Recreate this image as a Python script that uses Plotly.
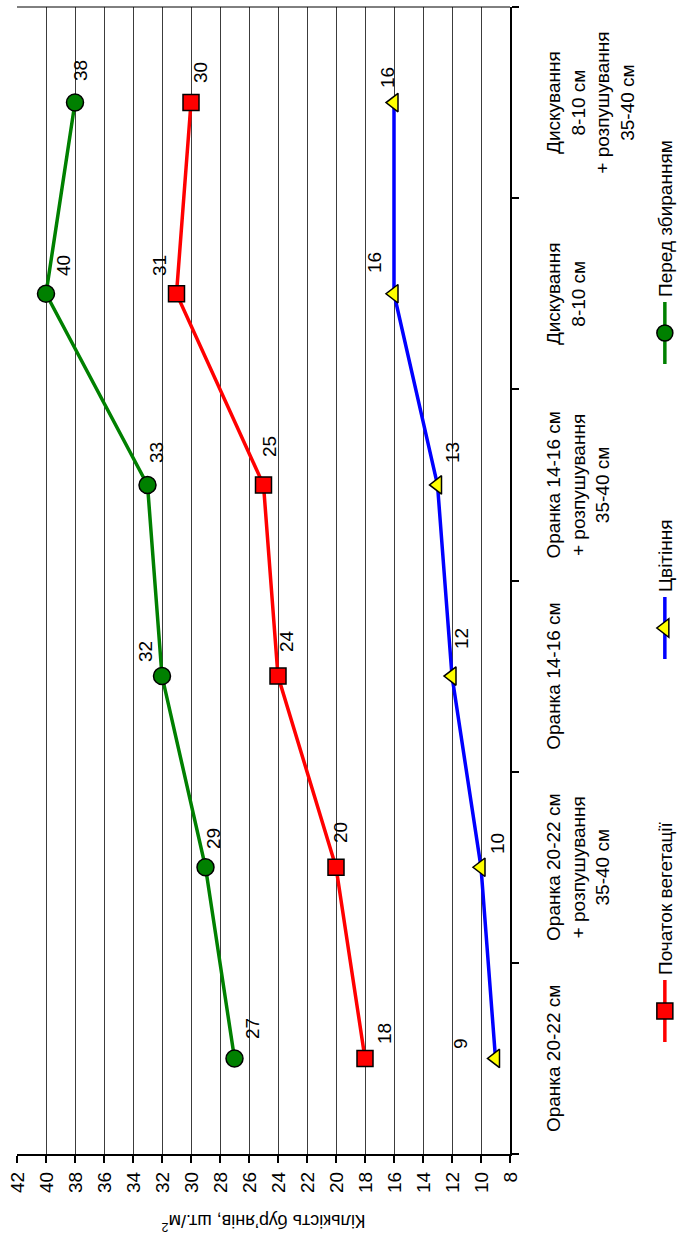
import plotly.graph_objects as go

# Tillage treatments (category axis)
categories = [
    "Оранка 20-22 см",
    "Оранка 20-22 см<br>+ розпушування<br>35-40 см",
    "Оранка 14-16 см",
    "Оранка 14-16 см<br>+ розпушування<br>35-40 см",
    "Дискування<br>8-10 см",
    "Дискування<br>8-10 см<br>+ розпушування<br>35-40 см",
]

# Weed counts, pcs per m2
start_vegetation = [18, 20, 24, 25, 31, 30]
flowering = [9, 10, 12, 13, 16, 16]
before_harvest = [27, 29, 32, 33, 40, 38]

series_names = ["Початок вегетації", "Цвітіння", "Перед збиранням"]
value_ticks = list(range(8, 43, 2))

# label offsets from each point (px right, px down)
label_offsets = {
    "Початок вегетації": [(25, 19), (35, 4), (35, 8), (38, 6), (28, -17), (30, 9)],
    "Цвітіння": [(15, -35), (24, 16), (38, 9), (32, 15), (31, -20), (25, -7)],
    "Перед збиранням": [(30, 18), (29, 8), (25, -17), (32, 9), (28, 17), (32, 5)],
}

FONT = "Arial, 'Liberation Sans', sans-serif"
W, H = 1239, 682  # drawn landscape, turned a quarter turn on the page
ML, MR, MT, MB = 85, 7, 17, 172

styles = {
    "Початок вегетації": dict(line="#FF0000", fill="#FF0000", symbol="square", size=16),
    "Цвітіння": dict(line="#0000FF", fill="#FFFF00", symbol="triangle-up", size=16),
    "Перед збиранням": dict(line="#008000", fill="#008000", symbol="circle", size=17),
}
series_values = {
    "Початок вегетації": start_vegetation,
    "Цвітіння": flowering,
    "Перед збиранням": before_harvest,
}
legend_ids = {"Початок вегетації": "legend", "Цвітіння": "legend2", "Перед збиранням": "legend3"}
legend_left = {"legend": 192, "legend2": 575, "legend3": 870}

fig = go.Figure()
for name in series_names:
    st = styles[name]
    fig.add_trace(go.Scatter(
        x=categories, y=series_values[name], name=name,
        mode="lines+markers",
        line=dict(color=st["line"], width=3.5),
        marker=dict(symbol=st["symbol"], size=st["size"], color=st["fill"],
                    line=dict(color="black", width=1.5)),
        legend=legend_ids[name],
        cliponaxis=False,
    ))
    for cat, val, (dx, dy) in zip(categories, series_values[name], label_offsets[name]):
        fig.add_annotation(x=cat, y=val, text=str(val), showarrow=False,
                           xshift=dx, yshift=-dy,
                           font=dict(family=FONT, size=19, color="black"))

# legends are placed in page pixels (container coordinates)
legend_common = dict(orientation="h", yanchor="middle", xanchor="left",
                     xref="container", yref="container",
                     font=dict(family=FONT, size=19, color="black"),
                     bgcolor="rgba(0,0,0,0)", itemwidth=62,
                     y=1 - 665 / H)

fig.update_layout(
    width=W, height=H,
    margin=dict(l=ML, r=MR, t=MT, b=MB, autoexpand=False),
    paper_bgcolor="white", plot_bgcolor="white",
    font=dict(family=FONT, size=17, color="black"),
    legend=dict(**legend_common, x=legend_left["legend"] / W),
    legend2=dict(**legend_common, x=legend_left["legend2"] / W),
    legend3=dict(**legend_common, x=legend_left["legend3"] / W),
    xaxis=dict(
        type="category", tickson="boundaries",
        showline=True, linecolor="black", linewidth=2,
        ticks="outside", ticklen=7, tickwidth=1.5, tickcolor="black",
        showgrid=False, tickangle=0, ticklabelstandoff=25,
        tickfont=dict(family=FONT, size=19, color="black"),
        range=[-0.5, len(categories) - 0.5],
    ),
    yaxis=dict(
        range=[8, 42], tickvals=value_ticks,
        showline=True, linecolor="black", linewidth=2,
        ticks="outside", ticklen=7, tickwidth=1.5, tickcolor="black",
        showgrid=True, gridcolor="#3c3c3c", gridwidth=1,
        zeroline=False, ticklabelstandoff=5,
        tickfont=dict(family=FONT, size=19, color="black"),
    ),
    showlegend=True,
)

# y-axis title
fig.add_annotation(xref="paper", yref="paper", x=(17 - ML) / (W - ML - MR), y=0.5,
                   text="Кількість бур’янів, шт./м<sup>2</sup>", textangle=-90,
                   showarrow=False, xanchor="center", yanchor="middle",
                   font=dict(family=FONT, size=18, color="black"))

# thin frame edge opposite the value axis
fig.add_shape(type="line", xref="paper", yref="paper", x0=1, x1=1, y0=0, y1=1,
              line=dict(color="black", width=1))

turn_js = (
    "var gd = document.getElementById('{plot_id}');"
    "document.documentElement.style.overflow = 'hidden';"
    "document.body.style.margin = '0';"
    "document.body.style.overflow = 'hidden';"
    "gd.style.position = 'absolute';"
    "gd.style.left = '0px';"
    "gd.style.top = '0px';"
    "gd.style.transformOrigin = '0 0';"
    "gd.style.transform = 'translate(0px, " + str(W) + "px) rotate(-90deg)';"
)

fig.write_html("out.html", post_script=turn_js, config={"displayModeBar": False})
